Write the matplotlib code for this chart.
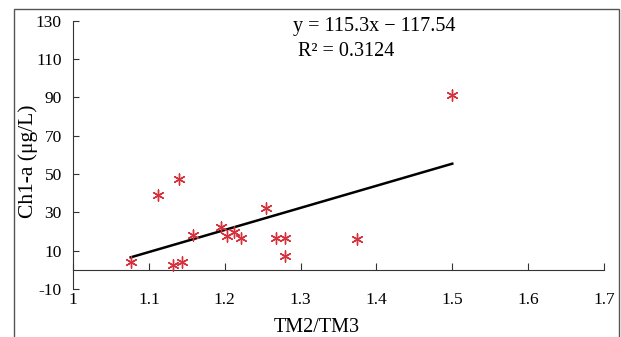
import numpy as np
import matplotlib.pyplot as plt
from matplotlib.patches import Rectangle

# TM2/TM3 ratio vs Chl-a
tm_ratio = [1.076, 1.112, 1.140, 1.132, 1.144, 1.158, 1.195, 1.203,
            1.212, 1.221, 1.255, 1.268, 1.279, 1.279, 1.374, 1.500]
chla = [4.3, 39.1, 47.3, 2.6, 4.3, 18.2, 22.2, 17.7,
        19.9, 16.6, 32.1, 16.5, 16.5, 7.4, 16.0, 91.2]
slope, intercept = 115.3, -117.54
xticks = [1, 1.1, 1.2, 1.3, 1.4, 1.5, 1.6, 1.7]
xticklabels = ["1", "1.1", "1.2", "1.3", "1.4", "1.5", "1.6", "1.7"]
yticks = [-10, 10, 30, 50, 70, 90, 110, 130]

plt.rcParams['font.family'] = ['Liberation Serif', 'DejaVu Serif']
plt.rcParams['axes.unicode_minus'] = False

W, H = 621, 337
fig = plt.figure(figsize=(6.21, 3.37), dpi=100)
ax = fig.add_axes([0.1176, 0.1424, 0.855, 0.796])

# frame around the picture (no bottom edge visible)
fig.patches.append(Rectangle((14/W, -0.05), 605/W, 1 - 9/H + 0.05,
                             transform=fig.transFigure, fill=False,
                             edgecolor='#555555', linewidth=1.0))

ax.scatter(tm_ratio, chla, marker=(6, 2, 0), s=65, color='#d6303a',
           linewidths=1.0, zorder=3)

xfit = np.array([min(tm_ratio), max(tm_ratio)])
ax.plot(xfit, slope*xfit + intercept, color='black', lw=1.8, zorder=2)

ax.set_xlim(1, 1.7)
ax.set_ylim(-10, 130)
ax.set_xticks(xticks)
ax.set_xticklabels(xticklabels)
ax.set_yticks(yticks)

for s in ['top', 'right']:
    ax.spines[s].set_visible(False)
ax.spines['bottom'].set_position(('data', 0))
ax.spines['bottom'].set_color('#333333')
ax.spines['left'].set_color('#333333')

ax.tick_params(axis='x', direction='in', length=5, pad=16, labelsize=12.5, color='#333333')
ax.tick_params(axis='y', direction='in', length=4, pad=8, labelsize=12.5, color='#333333')

fig.text(317/W, 1 - 328/H, 'TM2/TM3', ha='center', va='center', fontsize=14.5)
fig.text(28/W, 1 - 161/H, 'Ch1-a (μg/L)', ha='center', va='center',
         rotation=90, fontsize=15.5)

fig.text(374/W, 1 - 27/H, 'y = 115.3x − 117.54', ha='center', va='center', fontsize=14.5)
fig.text(346/W, 1 - 52/H, 'R² = 0.3124', ha='center', va='center', fontsize=14.5)

fig.savefig('out.png', dpi=100)
